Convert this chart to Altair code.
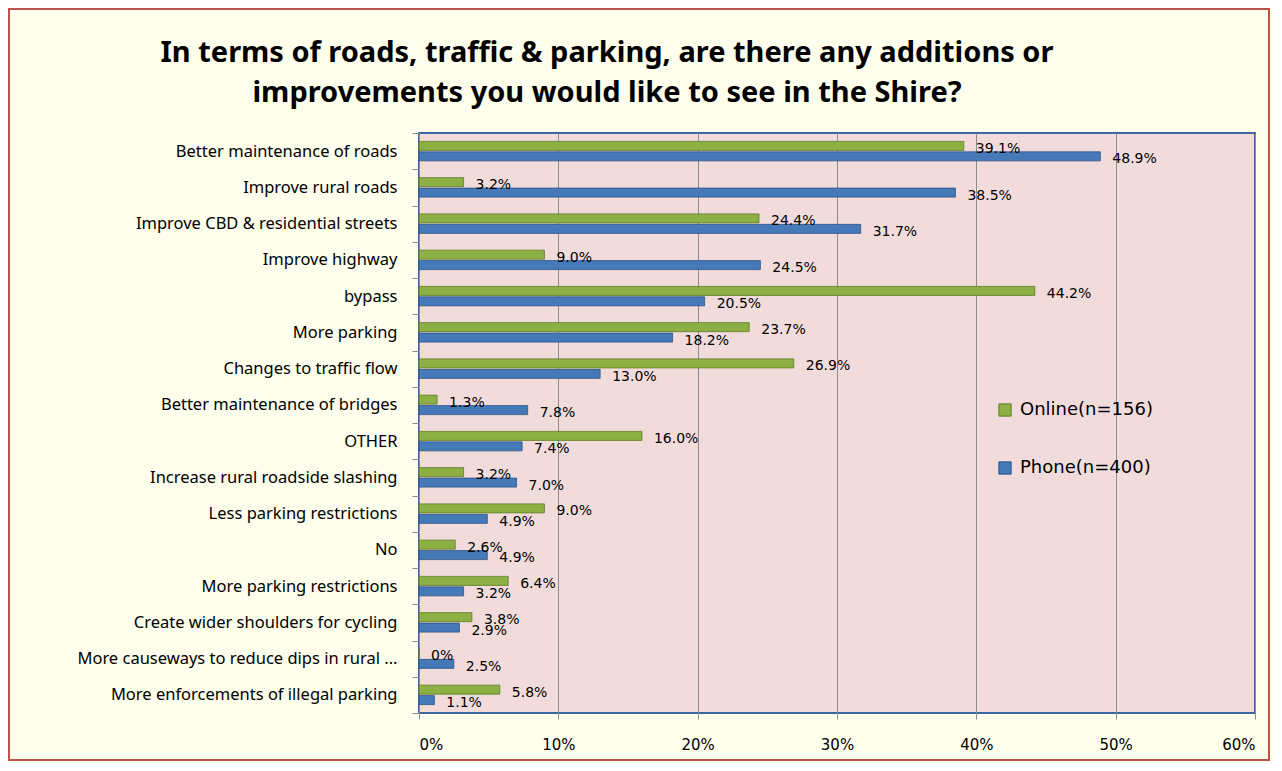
import altair as alt
import pandas as pd

categories = [
    "Better maintenance of roads",
    "Improve rural roads",
    "Improve CBD & residential streets",
    "Improve highway",
    "bypass",
    "More parking",
    "Changes to traffic flow",
    "Better maintenance of bridges",
    "OTHER",
    "Increase rural roadside slashing",
    "Less parking restrictions",
    "No",
    "More parking restrictions",
    "Create wider shoulders for cycling",
    "More causeways to reduce dips in rural ...",
    "More enforcements of illegal parking",
]
online = [39.1, 3.2, 24.4, 9.0, 44.2, 23.7, 26.9, 1.3, 16.0, 3.2, 9.0, 2.6, 6.4, 3.8, 0.0, 5.8]
phone = [48.9, 38.5, 31.7, 24.5, 20.5, 18.2, 13.0, 7.8, 7.4, 7.0, 4.9, 4.9, 3.2, 2.9, 2.5, 1.1]
series = ["Online(n=156)", "Phone(n=400)"]
colors = ["#8DB045", "#4679B8"]

rows = []
for c, o, p in zip(categories, online, phone):
    for s, v in ((series[0], o), (series[1], p)):
        lab = "0%" if v == 0 else f"{v:.1f}%"
        rows.append({"category": c, "series": s, "value": v / 100.0, "label": lab})
df = pd.DataFrame(rows)

W, H = 836, 580
PL, PT, PR, PB = 411, 125, 18, 50

base = alt.Chart(df).encode(
    y=alt.Y(
        "category:N",
        sort=categories,
        title=None,
        scale=alt.Scale(paddingInner=0, paddingOuter=0),
        axis=alt.Axis(
            tickBand="extent",
            ticks=True,
            tickSize=7,
            tickColor="#8c8c8c",
            domain=False,
            grid=False,
            labelFont="Noto Sans",
            labelFontSize=16.5,
            labelColor="#000000",
            labelPadding=15,
            labelLimit=400,
        ),
    ),
    yOffset=alt.YOffset(
        "series:N",
        sort=series,
        scale=alt.Scale(paddingInner=0.14, paddingOuter=0.8),
    ),
)

bars = base.mark_bar(strokeWidth=0.8).encode(
    x=alt.X(
        "value:Q",
        title=None,
        scale=alt.Scale(domain=[0, 0.6], nice=False),
        axis=alt.Axis(
            format="%",
            values=[0, 0.1, 0.2, 0.3, 0.4, 0.5, 0.6],
            grid=True,
            gridColor="#8c8c8c",
            gridWidth=1,
            gridOpacity=1,
            domain=False,
            ticks=True,
            tickSize=6,
            tickColor="#8c8c8c",
            labelFont="DejaVu Sans",
            labelFontSize=15,
            labelColor="#000000",
            labelPadding=18,
        ),
    ),
    color=alt.Color(
        "series:N",
        sort=series,
        scale=alt.Scale(domain=series, range=colors),
        legend=alt.Legend(
            title=None,
            orient="none",
            legendX=577,
            legendY=268,
            symbolType="square",
            symbolSize=150,
            symbolStrokeWidth=1,
            labelFont="DejaVu Sans",
            labelFontSize=18,
            labelColor="#000000",
            labelOffset=6,
            rowPadding=40,
        ),
    ),
    stroke=alt.Stroke(
        "series:N",
        sort=series,
        scale=alt.Scale(domain=series, range=["#5d7a26", "#2a5288"]),
        legend=None,
    ),
)

texts = base.mark_text(
    align="left",
    baseline="middle",
    dx=12,
    dy=3,
    font="DejaVu Sans",
    fontSize=14,
    color="#000000",
).encode(x=alt.X("value:Q"), text="label:N")

frame = alt.Chart(pd.DataFrame({"a": [0]})).mark_rect(
    fill=None, stroke="#C0504D", strokeWidth=2
).encode(
    x=alt.value(-PL + 1),
    x2=alt.value(W + PR - 4),
    y=alt.value(-PT + 1),
    y2=alt.value(H + PB - 3),
)

chart = (
    alt.layer(frame, bars, texts)
    .properties(
        width=W,
        height=H,
        padding={"left": PL, "top": PT, "right": PR, "bottom": PB},
        autosize=alt.AutoSizeParams(type="none"),
        background="#FEFEEC",
        title=alt.TitleParams(
            text=[
                "In terms of roads, traffic & parking, are there any additions or",
                "improvements you would like to see in the Shire?",
            ],
            font="Noto Sans",
            fontSize=29,
            fontWeight="bold",
            color="#000000",
            anchor="middle",
            frame="group",
            dx=-230,
            dy=126,
            offset=26,
            lineHeight=40,
        ),
    )
    .configure_view(fill="#F2DCDB", stroke="#3C67A3", strokeWidth=2)
)

chart.save("out.html", embed_options={"renderer": "svg", "actions": False})
